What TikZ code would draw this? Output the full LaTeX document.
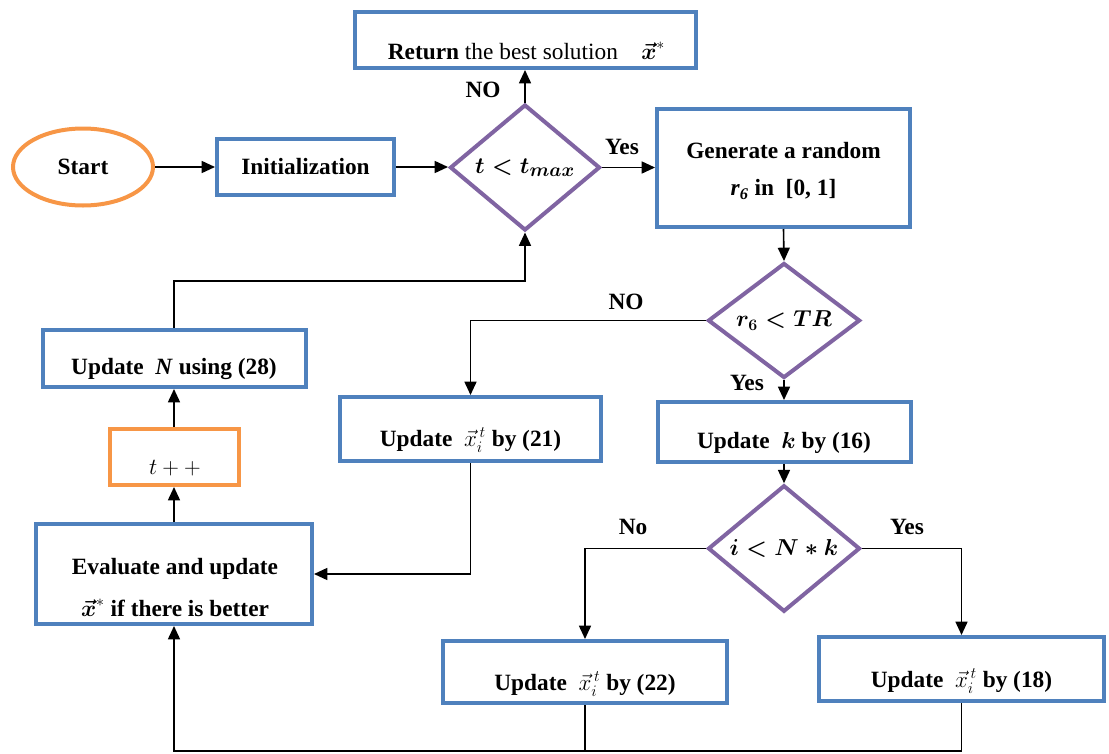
\documentclass[tikz,border=0pt]{standalone}
\usepackage{amsmath}
\usepackage{fontspec}
\setmainfont{Liberation Serif}
\usetikzlibrary{arrows.meta,shapes.geometric}
\definecolor{boxblue}{RGB}{79,129,189}
\definecolor{boxorange}{RGB}{247,150,70}
\definecolor{boxpurple}{RGB}{128,100,162}
\tikzset{
  basefont/.style={font=\fontsize{17.5}{21}\selectfont\bfseries, inner sep=0pt},
  bbox/.style={draw=boxblue, line width=3pt, rectangle, inner sep=0pt},
  obox/.style={draw=boxorange, line width=3pt, rectangle, inner sep=0pt},
  decis/.style={draw=boxpurple, line width=3pt, diamond, inner sep=0pt, basefont},
  termn/.style={draw=boxorange, line width=3pt, ellipse, inner sep=0pt, basefont},
  txt/.style={basefont, align=center},
  lbl/.style={basefont},
  arr/.style={line width=1.2pt, -{Triangle[length=10pt,width=9pt]}},
  ln/.style={line width=1.2pt}
}
\begin{document}
\begin{tikzpicture}[x=0.75pt,y=-0.75pt]
\useasboundingbox (0,0) rectangle (1109,753);
% shapes
\node[termn, minimum width=105pt, minimum height=57.75pt] (start) at (83,167) {Start};
\node[bbox, basefont, minimum width=132.75pt, minimum height=42pt] (init) at (305.5,167) {Initialization};
\node[decis, minimum width=112.5pt, minimum height=94.5pt, font=\fontsize{19}{22}\selectfont\bfseries] (d1) at (525,167.5) {$\boldsymbol{t<t_{max}}$};
\node[bbox, minimum width=255.75pt, minimum height=42pt] (ret) at (525,40) {};
\node[txt] (rett) at (526.5,51) {Return \mdseries the best solution\quad $\boldsymbol{\vec{x}}^{*}$};
\node[bbox, minimum width=189.75pt, minimum height=88.5pt] (gen) at (783.5,168) {};
\node[txt, font=\fontsize{17.5}{27.75}\selectfont\bfseries] (gent) at (783.5,171) {Generate a random\\\textit{r}\textsubscript{\textit{6}} in\enspace[0, 1]};
\node[decis, minimum width=114pt, minimum height=71.25pt] (d2) at (784,320.5) {$\boldsymbol{r_6<TR}$};
\node[bbox, minimum width=189.75pt, minimum height=45pt] (updk) at (784,432) {};
\node[txt] (updkt) at (784,443) {Update\enspace$\boldsymbol{k}$ by (16)};
\node[decis, minimum width=114pt, minimum height=72.75pt] (d3) at (784,548.5) {$\boldsymbol{i<N*k}$};
\node[bbox, minimum width=213pt, minimum height=46.5pt] (u22) at (585,672) {};
\node[txt] (u22t) at (585,684) {Update\enspace$\vec{x}_i^{\,t}$ by (22)};
\node[bbox, minimum width=213.75pt, minimum height=48pt] (u18) at (961.5,669) {};
\node[txt] (u18t) at (961.5,681) {Update\enspace$\vec{x}_i^{\,t}$ by (18)};
\node[bbox, minimum width=195.75pt, minimum height=48pt] (u21) at (470.5,429) {};
\node[txt] (u21t) at (470.5,440) {Update\enspace$\vec{x}_i^{\,t}$ by (21)};
\node[bbox, minimum width=197.25pt, minimum height=42.75pt] (updN) at (174,358.5) {};
\node[txt] (updNt) at (174,369) {Update\enspace\textit{N} using (28)};
\node[obox, minimum width=96.75pt, minimum height=42pt] (tpp) at (174,457) {};
\node[txt] (tppt) at (175,468) {\mdseries$t++$};
\node[bbox, minimum width=207pt, minimum height=75pt] (eval) at (174,574) {};
\node[txt, font=\fontsize{17.5}{31.5}\selectfont\bfseries] (evalt) at (175,588) {Evaluate and update\\$\boldsymbol{\vec{x}}^{*}$ if there is better};
% labels
\node[lbl] (lyes1) at (622,147) {Yes};
\node[lbl] (lno1) at (483,90) {NO};
\node[lbl] (lno2) at (626,302) {NO};
\node[lbl] (lyes2) at (747,383) {Yes};
\node[lbl] (lno3) at (633,527) {No};
\node[lbl] (lyes3) at (907,527) {Yes};
% helper coordinates
\coordinate (loopc) at (174,281);
\coordinate (botc) at (174,751);
% connectors
\draw[arr] (start.east) -- (init.west);
\draw[arr] (init.east) -- (init.east -| d1.west);
\draw[arr] (d1.east) -- (d1.east -| gen.west);
\draw[arr] (d1.north) -- (ret.south);
\draw[arr] (gen.south) -- (d2.north);
\draw[arr] (d2.west) -| (u21.north);
\draw[arr] (d2.south) -- (updk.north);
\draw[arr] (updk.south) -- (d3.north);
\draw[arr] (d3.west) -| (u22.north);
\draw[arr] (d3.east) -| (u18.north);
\draw[arr] (u21.south) |- (eval.east);
\draw[arr] (u18.south) |- (botc) -- (eval.south);
\draw[ln] (u22.south) -- (u22.south |- botc);
\draw[arr] (eval.north) -- (tpp.south);
\draw[arr] (tpp.north) -- (updN.south);
\draw[arr] (updN.north) -- (loopc) -| (d1.south);
\end{tikzpicture}
\end{document}
